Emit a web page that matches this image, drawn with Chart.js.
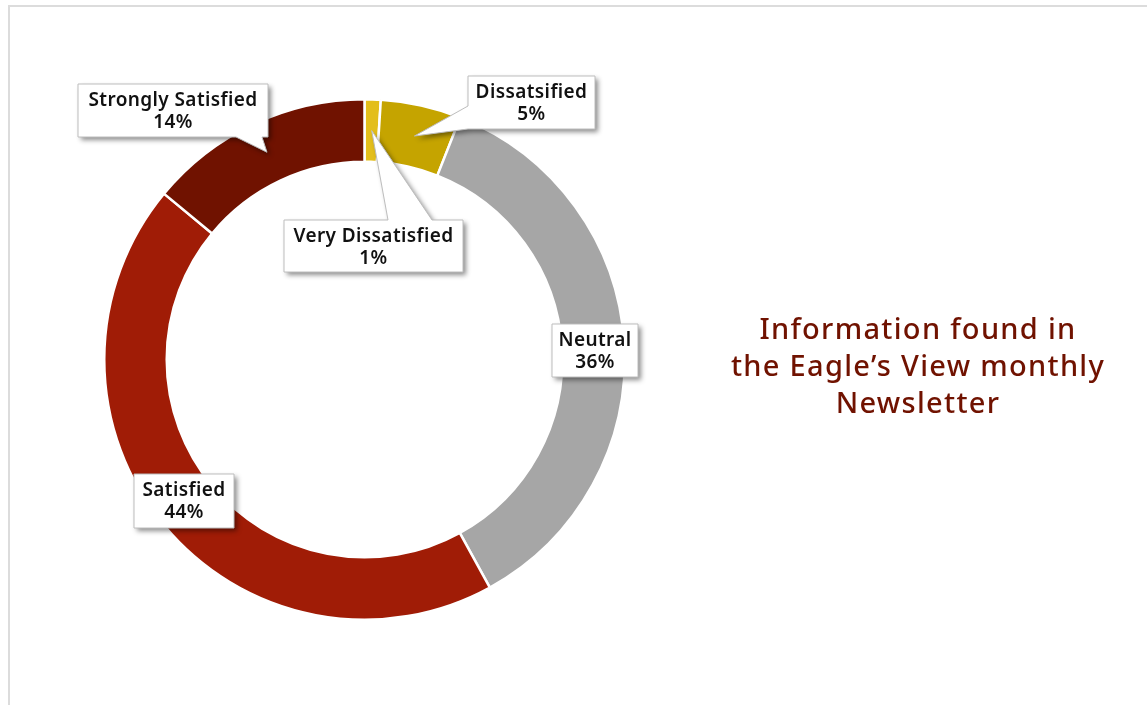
<!DOCTYPE html>
<html>
<head>
<meta charset="utf-8">
<script src="https://cdn.jsdelivr.net/npm/chart.js@4/dist/chart.umd.min.js"></script>
<style>
  html, body { margin: 0; padding: 0; background: #fff; }
  #wrap { position: relative; width: 1147px; height: 705px; overflow: hidden; }
  #frame { position: absolute; left: 8px; top: 5px; width: 1200px; height: 800px;
           border-top: 2px solid #dcdcdc; border-left: 2px solid #dcdcdc; }
  #chart { position: absolute; left: 0; top: 0; }
  #note { position: absolute; left: 690px; top: 309px; width: 456px; text-align: center;
          font-family: "Noto Sans", sans-serif; font-weight: 500; font-size: 29px;
          letter-spacing: 1.3px; line-height: 37px; color: #701200; }
</style>
</head>
<body>
<div id="wrap">
  <div id="frame"></div>
  <canvas id="chart" width="1147" height="705"></canvas>
  <div id="note">Information found in<br>the Eagle’s View monthly<br>Newsletter</div>
</div>
<script>
var labels = ["Very Dissatisfied", "Dissatisfied", "Neutral", "Satisfied", "Strongly Satisfied"];
var calloutNames = ["Very Dissatisfied", "Dissatsified", "Neutral", "Satisfied", "Strongly Satisfied"];
var percents = [1, 5, 36, 44, 14];
var colors = ["#E3BE1B", "#C5A400", "#A6A6A6", "#A01C06", "#701200"];

// callout boxes: x, y, w, h and the edge the pointer leaves from
var boxes = [
    { x: 284, y: 220, w: 179, h: 52, side: "top", a: 388, b: 432 },
    { x: 468, y: 76, w: 127, h: 53, side: "left", a: 106, b: 129 },
    { x: 552, y: 324, w: 86, h: 53 },
    { x: 134, y: 474, w: 100, h: 54 },
    { x: 78, y: 84, w: 190, h: 53, side: "bottom", a: 236, b: 262 }
];

var boxPath = function(ctx, bx, tip){
    var x0 = bx.x, y0 = bx.y, x1 = bx.x + bx.w, y1 = bx.y + bx.h;
    ctx.beginPath();
    ctx.moveTo(x0, y0);
    if(bx.side === "top"){
        ctx.lineTo(bx.a, y0); ctx.lineTo(tip.x, tip.y); ctx.lineTo(bx.b, y0);
    }
    ctx.lineTo(x1, y0);
    ctx.lineTo(x1, y1);
    if(bx.side === "bottom"){
        ctx.lineTo(bx.b, y1); ctx.lineTo(tip.x, tip.y); ctx.lineTo(bx.a, y1);
    }
    ctx.lineTo(x0, y1);
    if(bx.side === "left"){
        ctx.lineTo(x0, bx.b); ctx.lineTo(tip.x, tip.y); ctx.lineTo(x0, bx.a);
    }
    ctx.closePath();
};

var callouts = {
    id: "callouts",
    afterDatasetsDraw: function(chart){
        var ctx = chart.ctx;
        var arcs = chart.getDatasetMeta(0).data;
        ctx.save();
        for(var i = 0; i < arcs.length; i++){
            var bx = boxes[i];
            var tip = arcs[i].tooltipPosition();
            ctx.save();
            ctx.shadowColor = "rgba(0,0,0,0.45)";
            ctx.shadowBlur = 5;
            ctx.shadowOffsetX = 3;
            ctx.shadowOffsetY = 3;
            boxPath(ctx, bx, tip);
            ctx.fillStyle = "#fff";
            ctx.fill();
            ctx.restore();
            boxPath(ctx, bx, tip);
            ctx.lineWidth = 1;
            ctx.strokeStyle = "#bdbdbd";
            ctx.stroke();

            ctx.fillStyle = "#111";
            ctx.font = "600 19px 'Noto Sans', sans-serif";
            ctx.letterSpacing = "0.4px";
            ctx.textAlign = "center";
            ctx.textBaseline = "middle";
            var cx = bx.x + bx.w / 2;
            ctx.fillText(calloutNames[i], cx, bx.y + 17);
            ctx.fillText(chart.data.datasets[0].data[i] + "%", cx, bx.y + 39);
        }
        ctx.restore();
    }
};

new Chart(document.getElementById("chart").getContext("2d"), {
    type: "doughnut",
    data: {
        labels: labels,
        datasets: [{
            data: percents,
            backgroundColor: colors,
            borderColor: "#fff",
            borderWidth: 2.5
        }]
    },
    options: {
        responsive: false,
        animation: false,
        cutout: "76%",
        layout: { padding: { left: 103, right: 521, top: 98, bottom: 84 } },
        plugins: {
            legend: { display: false },
            tooltip: { enabled: false }
        }
    },
    plugins: [callouts]
});
</script>
</body>
</html>
